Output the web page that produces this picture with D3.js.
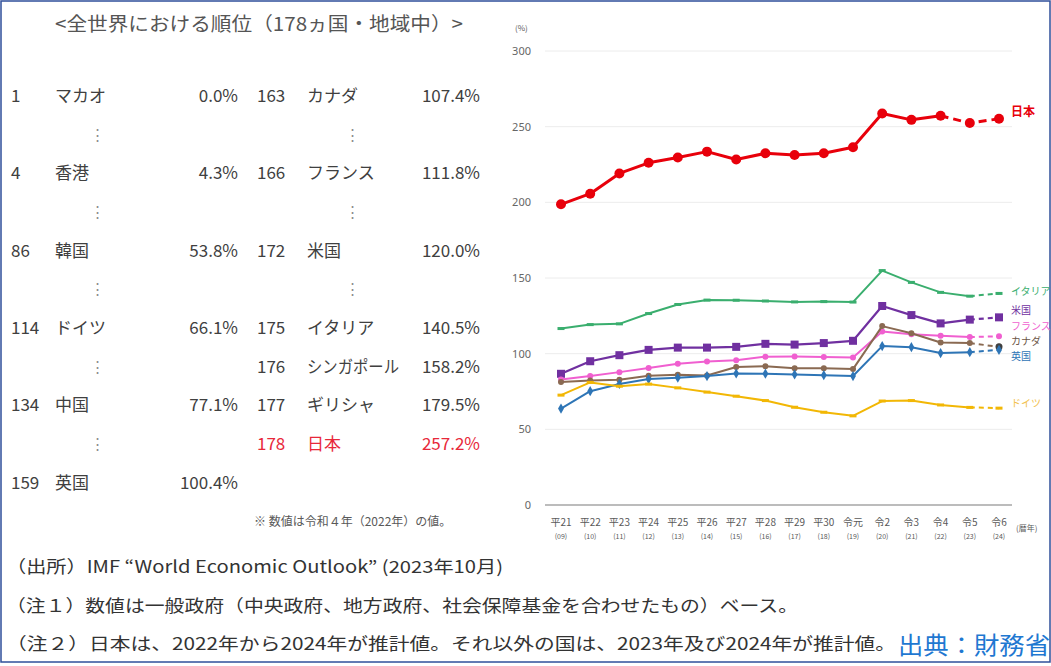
<!DOCTYPE html>
<html>
<head>
<meta charset="utf-8">
<script src="https://cdn.jsdelivr.net/npm/d3@7"></script>
<style>
  body { margin: 0; background: #fff; }
  svg text { font-family: "Noto Sans CJK JP", "Noto Sans", sans-serif; }
</style>
</head>
<body>
<div id="chart"></div>
<script>
// years (和暦 + 西暦)
const years = ['平21','平22','平23','平24','平25','平26','平27','平28','平29','平30','令元','令2','令3','令4','令5','令6'];
const yearsSub = ['(09)','(10)','(11)','(12)','(13)','(14)','(15)','(16)','(17)','(18)','(19)','(20)','(21)','(22)','(23)','(24)'];

// debt to GDP (%)
const japan   = [198.7, 205.7, 219.1, 226.1, 229.6, 233.5, 228.3, 232.4, 231.3, 232.4, 236.4, 258.7, 254.5, 257.2, 252.4, 255.2];
const italy   = [116.6, 119.2, 119.7, 126.5, 132.5, 135.4, 135.3, 134.8, 134.2, 134.4, 134.1, 154.9, 147.1, 140.5, 138.0, 139.8];
const usa     = [86.7, 95.0, 99.0, 102.5, 104.0, 104.0, 104.5, 106.5, 106.0, 107.0, 108.5, 131.5, 125.5, 120.0, 122.5, 124.0];
const france  = [83.0, 85.3, 87.8, 90.6, 93.4, 94.9, 95.6, 98.0, 98.1, 97.8, 97.4, 114.7, 112.9, 111.8, 111.0, 111.5];
const canada  = [81.3, 82.2, 82.8, 85.4, 86.1, 85.6, 91.2, 91.7, 90.3, 90.3, 89.8, 118.2, 113.5, 107.4, 107.0, 104.5];
const uk      = [63.7, 75.2, 80.0, 83.2, 84.1, 85.2, 86.9, 86.8, 86.3, 85.8, 85.2, 105.0, 104.3, 100.4, 101.0, 102.5];
const germany = [72.6, 81.0, 78.5, 79.9, 77.4, 74.6, 71.9, 69.0, 64.6, 61.3, 58.9, 68.7, 69.0, 66.1, 64.5, 64.0];

const yTicks = [0, 50, 100, 150, 200, 250, 300];

// series: name, values, colour, marker, index where the estimate starts, label value
const series = [
    { name: '日本',     v: japan,   c: '#e8000b', m: 'circle',  est: 13, lab: 259.5, w: 3 },
    { name: 'イタリア', v: italy,   c: '#3aae6e', m: 'dash',    est: 14, lab: 141.3, w: 2 },
    { name: '米国',     v: usa,     c: '#7030a0', m: 'square',  est: 14, lab: 128.8, w: 2.2 },
    { name: 'フランス', v: france,  c: '#f05fd0', m: 'dot',     est: 14, lab: 118.3, w: 2 },
    { name: 'カナダ',   v: canada,  c: '#8a6a52', m: 'dot',     est: 14, lab: 108.4, w: 2 },
    { name: '英国',     v: uk,      c: '#2e75b6', m: 'diamond', est: 14, lab: 98.5,  w: 2 },
    { name: 'ドイツ',   v: germany, c: '#f2b705', m: 'dash',    est: 14, lab: 67.4,  w: 2 }
];
const labColour = { '日本': '#e8000b', 'イタリア': '#3aae6e', '米国': '#7030a0', 'フランス': '#f05fd0',
                    'カナダ': '#6a5444', '英国': '#2e75b6', 'ドイツ': '#f2c14e' };

// ranking table
const rankLeft = [
    ['1', 'マカオ', '0.0%'], ['4', '香港', '4.3%'], ['86', '韓国', '53.8%'],
    ['114', 'ドイツ', '66.1%'], ['134', '中国', '77.1%'], ['159', '英国', '100.4%']
];
const rankRight = [
    ['163', 'カナダ', '107.4%'], ['166', 'フランス', '111.8%'], ['172', '米国', '120.0%'],
    ['175', 'イタリア', '140.5%'], ['176', 'シンガポール', '158.2%'], ['177', 'ギリシャ', '179.5%'],
    ['178', '日本', '257.2%']
];

const notes = [
    '（出所）IMF “World Economic Outlook” (2023年10月)',
    '（注１）数値は一般政府（中央政府、地方政府、社会保障基金を合わせたもの）ベース。',
    '（注２）日本は、2022年から2024年が推計値。それ以外の国は、2023年及び2024年が推計値。'
];

const [width, height] = [1051, 666];
const svg = d3.select('#chart').append('svg')
    .attr('width', width)
    .attr('height', height);

svg.append('rect').attr('width', width).attr('height', height).attr('fill', '#fff');
// frame
svg.append('rect')
    .attr('x', 1).attr('y', 1).attr('width', width - 2).attr('height', 661)
    .attr('fill', 'none').attr('stroke', '#2f4f9a').attr('stroke-width', 1.5);

// ---- line chart ----
const x = d3.scalePoint().domain(years).range([561, 999]);
const y = d3.scaleLinear().domain([0, 300]).range([505, 51]);

const grid = svg.append('g');
grid.selectAll('line')
    .data(yTicks)
    .join('line')
    .attr('x1', 545).attr('x2', 1012)
    .attr('y1', d => y(d)).attr('y2', d => y(d))
    .attr('stroke', d => d === 0 ? '#a6a6a6' : '#ececec')
    .attr('stroke-width', d => d === 0 ? 1.5 : 1);

const yAxis = d3.axisLeft(y).tickValues(yTicks).tickSize(0).tickPadding(0);
const gy = svg.append('g').attr('transform', 'translate(531,0)').call(yAxis);
gy.select('.domain').remove();
gy.selectAll('text')
    .attr('fill', '#666')
    .style('font-size', '11px')
    .style('font-family', '"Noto Sans", sans-serif');

svg.append('text')
    .attr('x', 515).attr('y', 31)
    .attr('fill', '#595959')
    .style('font-size', '8px')
    .text('(%)');

const gx = svg.append('g');
gx.selectAll('text.yr')
    .data(years)
    .join('text')
    .attr('class', 'yr')
    .attr('x', d => x(d)).attr('y', 526)
    .attr('text-anchor', 'middle')
    .attr('fill', '#595959')
    .style('font-size', '10px')
    .text(d => d);
gx.selectAll('text.sub')
    .data(yearsSub)
    .join('text')
    .attr('class', 'sub')
    .attr('x', (d, i) => x(years[i])).attr('y', 539)
    .attr('text-anchor', 'middle')
    .attr('fill', '#595959')
    .style('font-size', '7px')
    .text(d => d);
svg.append('text')
    .attr('x', 1016).attr('y', 531)
    .attr('fill', '#595959')
    .style('font-size', '8px')
    .text('(暦年)');

const line = d3.line()
    .x(d => x(d.k))
    .y(d => y(d.v));

series.forEach(s => {
    const pts = s.v.map((v, i) => ({ k: years[i], v: v }));
    const g = svg.append('g');
    g.append('path')
        .datum(pts.slice(0, s.est + 1))
        .attr('d', line)
        .attr('fill', 'none')
        .attr('stroke', s.c)
        .attr('stroke-width', s.w)
        .attr('stroke-linejoin', 'round');
    g.append('path')
        .datum(pts.slice(s.est))
        .attr('d', line)
        .attr('fill', 'none')
        .attr('stroke', s.c)
        .attr('stroke-width', s.w)
        .attr('stroke-dasharray', s.name === '日本' ? '8,5' : '5,4');

    const mk = g.selectAll('.mk').data(pts).join('g')
        .attr('transform', d => `translate(${x(d.k)},${y(d.v)})`);
    if (s.m === 'circle') {
        mk.append('circle').attr('r', 5).attr('fill', s.c);
    } else if (s.m === 'square') {
        mk.append('rect').attr('x', -4).attr('y', -4).attr('width', 8).attr('height', 8).attr('fill', s.c);
    } else if (s.m === 'diamond') {
        mk.append('path').attr('d', d3.symbol(d3.symbolDiamond, 30)).attr('fill', s.c);
    } else if (s.m === 'dot') {
        mk.append('circle').attr('r', 3).attr('fill', s.c);
    } else {
        mk.append('rect').attr('x', -3.5).attr('y', -1.5).attr('width', 7).attr('height', 3).attr('fill', s.c);
    }
    if (s.name === 'カナダ') {
        // last estimate point drawn darker
        g.append('circle')
            .attr('cx', x(years[years.length - 1])).attr('cy', y(s.v[s.v.length - 1]))
            .attr('r', 3.5).attr('fill', '#404040');
    }

    svg.append('text')
        .attr('x', 1011).attr('y', y(s.lab) + 4)
        .attr('fill', labColour[s.name])
        .style('font-size', s.name === '日本' ? '12px' : '10px')
        .style('font-weight', s.name === '日本' ? 'bold' : 'normal')
        .text(s.name);
});

// ---- ranking table ----
svg.append('text')
    .attr('x', 55).attr('y', 31)
    .attr('fill', '#555')
    .attr('textLength', 408)
    .attr('lengthAdjust', 'spacingAndGlyphs')
    .style('font-size', '19px')
    .text('<全世界における順位（178ヵ国・地域中）>');

const rowY = d3.scaleLinear().domain([0, 1]).range([102, 179.3]);
const tbl = svg.append('g').attr('fill', '#404040').style('font-size', '17px');

const leftRows = [0, 1, 2, 3, 4, 5];
tbl.selectAll('g.l')
    .data(rankLeft)
    .join('g')
    .attr('class', 'l')
    .attr('transform', (d, i) => `translate(0,${rowY(leftRows[i])})`)
    .each(function (d) {
        const r = d3.select(this);
        r.append('text').attr('x', 11).text(d[0]);
        r.append('text').attr('x', 55).text(d[1]);
        r.append('text').attr('x', 238).attr('text-anchor', 'end').text(d[2]);
    });

const rightRows = [0, 1, 2, 3, 3.5, 4, 4.5];
tbl.selectAll('g.r')
    .data(rankRight)
    .join('g')
    .attr('class', 'r')
    .attr('transform', (d, i) => `translate(0,${rowY(rightRows[i])})`)
    .attr('fill', d => d[1] === '日本' ? '#e8283a' : null)
    .each(function (d) {
        const r = d3.select(this);
        r.append('text').attr('x', 257).text(d[0]);
        r.append('text').attr('x', 307)
            .attr('textLength', d[1] === 'シンガポール' ? 92 : null)
            .attr('lengthAdjust', 'spacingAndGlyphs')
            .text(d[1]);
        r.append('text').attr('x', 480).attr('text-anchor', 'end').text(d[2]);
    });

// vertical ellipsis between rows
const dotsLeft = [0.5, 1.5, 2.5, 3.5, 4.5];
const dotsRight = [0.5, 1.5, 2.5];
const ell = svg.append('g').attr('fill', '#8c8c8c').style('font-size', '15px').attr('text-anchor', 'middle');
ell.selectAll('text.dl').data(dotsLeft).join('text')
    .attr('class', 'dl').attr('x', 97).attr('y', d => rowY(d) - 1).text('⋮');
ell.selectAll('text.dr').data(dotsRight).join('text')
    .attr('class', 'dr').attr('x', 352).attr('y', d => rowY(d) - 1).text('⋮');

svg.append('text')
    .attr('x', 254).attr('y', 526)
    .attr('fill', '#595959')
    .style('font-size', '12px')
    .text('※  数値は令和４年（2022年）の値。');

// ---- notes ----
const noteLen = [497, 792, 890];
svg.append('g').attr('fill', '#333')
    .selectAll('text')
    .data(notes)
    .join('text')
    .attr('x', 6)
    .attr('y', (d, i) => 573 + i * 38.5)
    .attr('textLength', (d, i) => noteLen[i])
    .attr('lengthAdjust', 'spacingAndGlyphs')
    .style('font-size', '17px')
    .text(d => d);

svg.append('text')
    .attr('x', 898).attr('y', 654)
    .attr('fill', '#1f78d1')
    .attr('textLength', 152)
    .attr('lengthAdjust', 'spacingAndGlyphs')
    .style('font-size', '24px')
    .text('出典：財務省');
</script>
</body>
</html>
